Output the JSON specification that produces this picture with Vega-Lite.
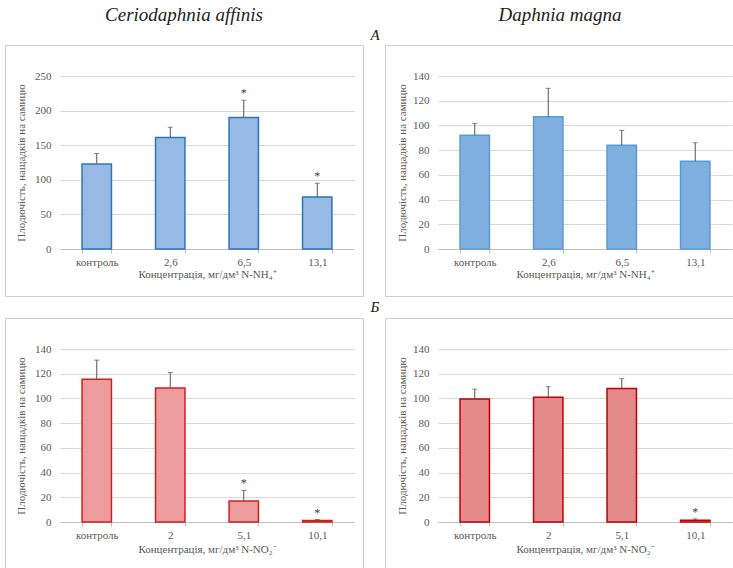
{
  "$schema": "https://vega.github.io/schema/vega-lite/v6.json",
  "padding": {"left": 4, "top": 5, "right": 0, "bottom": 0},
  "background": "white",
  "datasets": {
    "al": [
      {"conc": "контроль", "value": 123, "upper": 138, "sig": ""},
      {"conc": "2,6", "value": 161, "upper": 176, "sig": ""},
      {"conc": "6,5", "value": 190, "upper": 215, "sig": "*"},
      {"conc": "13,1", "value": 75, "upper": 95, "sig": "*"}
    ],
    "ar": [
      {"conc": "контроль", "value": 92, "upper": 101.5, "sig": ""},
      {"conc": "2,6", "value": 107, "upper": 130, "sig": ""},
      {"conc": "6,5", "value": 84, "upper": 96, "sig": ""},
      {"conc": "13,1", "value": 71, "upper": 86, "sig": ""}
    ],
    "bl": [
      {"conc": "контроль", "value": 115.5, "upper": 131, "sig": ""},
      {"conc": "2", "value": 108.5, "upper": 121, "sig": ""},
      {"conc": "5,1", "value": 17, "upper": 25.5, "sig": "*"},
      {"conc": "10,1", "value": 1.2, "upper": 2, "sig": "*"}
    ],
    "br": [
      {"conc": "контроль", "value": 99.5, "upper": 107.5, "sig": ""},
      {"conc": "2", "value": 101, "upper": 109.5, "sig": ""},
      {"conc": "5,1", "value": 108, "upper": 116, "sig": ""},
      {"conc": "10,1", "value": 1.5, "upper": 2.5, "sig": "*"}
    ]
  },
  "config": {
    "font": "Liberation Serif",
    "view": {"stroke": "#d0d0d0", "strokeWidth": 1},
    "axis": {
      "labelFont": "Liberation Serif", "labelFontSize": 11, "labelColor": "#595959",
      "titleFont": "Liberation Serif", "titleFontSize": 11, "titleFontWeight": "normal", "titleColor": "#595959",
      "gridColor": "#d9d9d9", "domainColor": "#bfbfbf", "tickColor": "#bfbfbf"
    },
    "title": {"font": "Liberation Serif", "fontWeight": "normal", "color": "#222222"}
  },
  "spacing": 2,
  "vconcat": [
    {
      "title": {"text": "А", "anchor": "middle", "fontStyle": "italic", "fontSize": 15, "dx": 5, "dy": 37, "offset": 0},
      "spacing": 20,
      "hconcat": [
        {
          "width": 358, "height": 251,
          "title": {"text": "Ceriodaphnia affinis", "anchor": "middle", "fontStyle": "italic", "fontSize": 19, "offset": 20},
          "data": {"name": "al"},
          "encoding": {
            "x": {"field": "conc", "type": "nominal", "sort": null,
              "scale": {"range": [55, 349], "paddingInner": 0.6, "paddingOuter": 0.3},
              "axis": {"title": "Концентрація, мг/дм³ N-NH₄⁺", "offset": -47, "labelAngle": 0, "tickBand": "extent", "ticks": true, "tickSize": 4, "labelPadding": 3, "titlePadding": 1, "grid": false}}
          },
          "layer": [
            {"mark": {"type": "bar", "fill": "#97bae5", "stroke": "#2e75b6", "strokeWidth": 1.5},
             "encoding": {"y": {"field": "value", "type": "quantitative", "scale": {"domain": [0, 250], "range": [204, 31], "nice": false},
               "axis": {"title": "Плодючість, нащадків на самицю", "values": [0, 50, 100, 150, 200, 250], "tickCount": 12, "offset": -55, "domain": false, "ticks": false, "labelPadding": 9, "titlePadding": 8, "grid": true}}}},
            {"mark": {"type": "rule", "color": "#555555", "strokeWidth": 1},
             "encoding": {"y": {"field": "value", "type": "quantitative", "title": "Плодючість, нащадків на самицю"}, "y2": {"field": "upper"}}},
            {"mark": {"type": "tick", "color": "#555555", "size": 5, "thickness": 1},
             "encoding": {"y": {"field": "upper", "type": "quantitative", "title": "Плодючість, нащадків на самицю"}}},
            {"mark": {"type": "text", "fontSize": 12, "color": "#404040", "baseline": "alphabetic", "dy": -3},
             "encoding": {"y": {"field": "upper", "type": "quantitative", "title": "Плодючість, нащадків на самицю"}, "text": {"field": "sig"}}}
          ]
        },
        {
          "width": 350, "height": 251,
          "title": {"text": "Daphnia magna", "anchor": "middle", "fontStyle": "italic", "fontSize": 19, "offset": 20},
          "data": {"name": "ar"},
          "encoding": {
            "x": {"field": "conc", "type": "nominal", "sort": null,
              "scale": {"range": [53, 347], "paddingInner": 0.6, "paddingOuter": 0.3},
              "axis": {"title": "Концентрація, мг/дм³ N-NH₄⁺", "offset": -47, "labelAngle": 0, "tickBand": "extent", "ticks": true, "tickSize": 4, "labelPadding": 3, "titlePadding": 1, "grid": false}}
          },
          "layer": [
            {"mark": {"type": "bar", "fill": "#7fb0e0", "stroke": "#5b9bd5", "strokeWidth": 1.5},
             "encoding": {"y": {"field": "value", "type": "quantitative", "scale": {"domain": [0, 140], "range": [204, 31], "nice": false},
               "axis": {"title": "Плодючість, нащадків на самицю", "values": [0, 20, 40, 60, 80, 100, 120, 140], "tickCount": 12, "offset": -53, "domain": false, "ticks": false, "labelPadding": 9, "titlePadding": 5, "grid": true}}}},
            {"mark": {"type": "rule", "color": "#555555", "strokeWidth": 1},
             "encoding": {"y": {"field": "value", "type": "quantitative", "title": "Плодючість, нащадків на самицю"}, "y2": {"field": "upper"}}},
            {"mark": {"type": "tick", "color": "#555555", "size": 5, "thickness": 1},
             "encoding": {"y": {"field": "upper", "type": "quantitative", "title": "Плодючість, нащадків на самицю"}}}
          ]
        }
      ]
    },
    {
      "title": {"text": "Б", "anchor": "middle", "fontStyle": "italic", "fontSize": 15, "dx": 5, "offset": 3},
      "spacing": 20,
      "hconcat": [
        {
          "width": 358, "height": 251,
          "data": {"name": "bl"},
          "encoding": {
            "x": {"field": "conc", "type": "nominal", "sort": null,
              "scale": {"range": [55, 349], "paddingInner": 0.6, "paddingOuter": 0.3},
              "axis": {"title": "Концентрація, мг/дм³ N-NO₂⁻", "offset": -47, "labelAngle": 0, "tickBand": "extent", "ticks": true, "tickSize": 4, "labelPadding": 3, "titlePadding": 3, "grid": false}}
          },
          "layer": [
            {"mark": {"type": "bar", "fill": "#ec9c9c", "stroke": "#d02020", "strokeWidth": 1.5},
             "encoding": {"y": {"field": "value", "type": "quantitative", "scale": {"domain": [0, 140], "range": [204, 31], "nice": false},
               "axis": {"title": "Плодючість, нащадків на самицю", "values": [0, 20, 40, 60, 80, 100, 120, 140], "tickCount": 12, "offset": -55, "domain": false, "ticks": false, "labelPadding": 9, "titlePadding": 8, "grid": true}}}},
            {"mark": {"type": "rule", "color": "#555555", "strokeWidth": 1},
             "encoding": {"y": {"field": "value", "type": "quantitative", "title": "Плодючість, нащадків на самицю"}, "y2": {"field": "upper"}}},
            {"mark": {"type": "tick", "color": "#555555", "size": 5, "thickness": 1},
             "encoding": {"y": {"field": "upper", "type": "quantitative", "title": "Плодючість, нащадків на самицю"}}},
            {"mark": {"type": "text", "fontSize": 12, "color": "#404040", "baseline": "alphabetic", "dy": -3},
             "encoding": {"y": {"field": "upper", "type": "quantitative", "title": "Плодючість, нащадків на самицю"}, "text": {"field": "sig"}}}
          ]
        },
        {
          "width": 350, "height": 251,
          "data": {"name": "br"},
          "encoding": {
            "x": {"field": "conc", "type": "nominal", "sort": null,
              "scale": {"range": [53, 347], "paddingInner": 0.6, "paddingOuter": 0.3},
              "axis": {"title": "Концентрація, мг/дм³ N-NO₂⁻", "offset": -47, "labelAngle": 0, "tickBand": "extent", "ticks": true, "tickSize": 4, "labelPadding": 3, "titlePadding": 3, "grid": false}}
          },
          "layer": [
            {"mark": {"type": "bar", "fill": "#e58a8a", "stroke": "#c00000", "strokeWidth": 1.5},
             "encoding": {"y": {"field": "value", "type": "quantitative", "scale": {"domain": [0, 140], "range": [204, 31], "nice": false},
               "axis": {"title": "Плодючість, нащадків на самицю", "values": [0, 20, 40, 60, 80, 100, 120, 140], "tickCount": 12, "offset": -53, "domain": false, "ticks": false, "labelPadding": 9, "titlePadding": 5, "grid": true}}}},
            {"mark": {"type": "rule", "color": "#555555", "strokeWidth": 1},
             "encoding": {"y": {"field": "value", "type": "quantitative", "title": "Плодючість, нащадків на самицю"}, "y2": {"field": "upper"}}},
            {"mark": {"type": "tick", "color": "#555555", "size": 5, "thickness": 1},
             "encoding": {"y": {"field": "upper", "type": "quantitative", "title": "Плодючість, нащадків на самицю"}}},
            {"mark": {"type": "text", "fontSize": 12, "color": "#404040", "baseline": "alphabetic", "dy": -3},
             "encoding": {"y": {"field": "upper", "type": "quantitative", "title": "Плодючість, нащадків на самицю"}, "text": {"field": "sig"}}}
          ]
        }
      ]
    }
  ]
}
